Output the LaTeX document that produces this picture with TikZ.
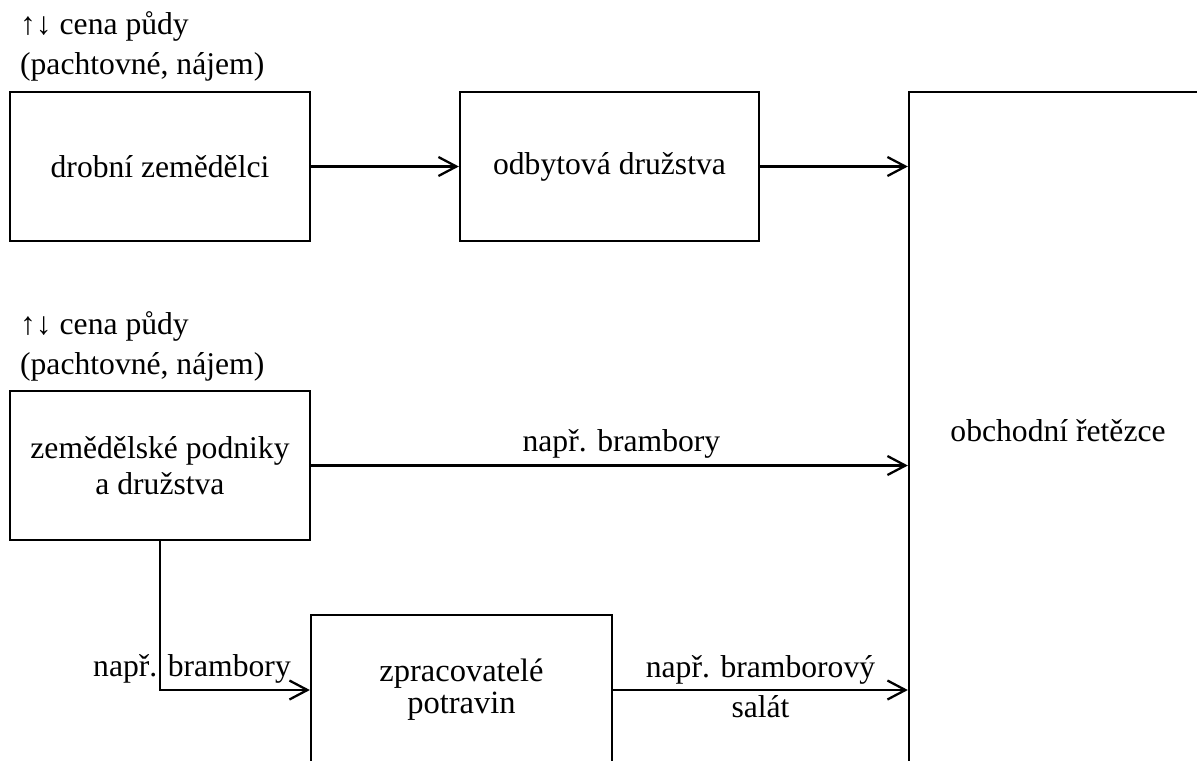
\documentclass[tikz,border=0pt]{standalone}
\usepackage{fontspec}
\setmainfont{Liberation Serif}
\usetikzlibrary{arrows.meta}

\begin{document}
\begin{tikzpicture}[
  font=\fontsize{18}{22.8}\selectfont,
  line width=1.3pt,
  box/.style={draw, rectangle, align=center, inner sep=0pt},
  flow/.style={-{Straight Barb[length=3.6mm, width=3.8mm]}},
  note/.style={align=left, inner sep=0pt, anchor=south west}
]
\useasboundingbox (0,0) rectangle (23.94,-15.2);
\clip (0,0) rectangle (23.94,-15.2);

\node [box, minimum width=6cm, minimum height=2.98cm] (small) at (3.2,-3.33) {drobní zemědělci};
\node [box, minimum width=5.98cm, minimum height=2.98cm] (sales) at (12.19,-3.33) {\raisebox{-0.08cm}{odbytová družstva}};
\node [box, minimum width=5.96cm, minimum height=13.56cm] (chains) at (21.16,-8.62) {obchodní řetězce};
\node [box, minimum width=6cm, minimum height=2.98cm, font=\fontsize{18}{20.5}\selectfont] (farms) at (3.2,-9.31) {zemědělské podniky\\a družstva};
\node [box, minimum width=6.02cm, minimum height=3cm, font=\fontsize{18.5}{18.2}\selectfont] (proc) at (9.23,-13.8) {zpracovatelé\\potravin};

\node [note] (rent1) at (0.38,-1.64) {↑↓ cena půdy\\(pachtovné, nájem)};
\node [note] (rent2) at (0.38,-7.64) {↑↓ cena půdy\\(pachtovné, nájem)};

\draw [flow] (small) -- (sales);
\draw [flow] (sales) -- (sales -| chains.west);
\draw [flow] (farms) -- node [above, pos=0.52] {např. brambory} (farms -| chains.west);
\draw [flow] (farms.south) |- node [above, xshift=0.64cm] {např. brambory} (proc.west);
\draw [flow] (proc) -- node [above, inner sep=2.5pt] {např. bramborový}
  node [below, inner sep=2.5pt] {salát} (proc -| chains.west);
\end{tikzpicture}
\end{document}
